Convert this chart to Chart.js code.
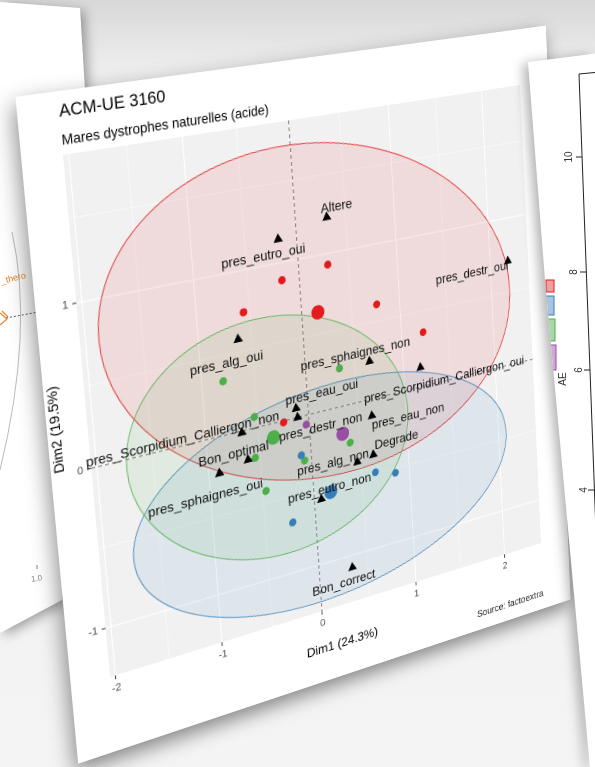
<!DOCTYPE html>
<html>
<head>
<meta charset="utf-8">
<title>ACM-UE 3160</title>
<script src="https://cdn.jsdelivr.net/npm/chart.js"></script>
<style>
  html, body { margin: 0; padding: 0; }
  body { width: 595px; height: 767px; overflow: hidden; position: relative;
         background: linear-gradient(180deg, #d8d8d8 0px, #eeeeee 70px, #f4f4f4 767px);
         font-family: "Liberation Sans", Arial, sans-serif; }
  .layer { position: absolute; left: 0; top: 0; width: 595px; height: 767px; }
  #leftWrap { filter: drop-shadow(4px 3px 6px rgba(0,0,0,0.35)); }
  #leftCard { background: #fff; clip-path: polygon(0px 2px, 80px 8px, 88px 140px, 62px 600px, 0px 633px); }
  #card { position: absolute; left: 0; top: 0; width: 592px; height: 658px; background: #fff;
          transform-origin: 0 0; box-shadow: -3px 8px 20px rgba(0,0,0,0.45); }
  #rightWrap { filter: drop-shadow(-5px 2px 6px rgba(0,0,0,0.3)); }
  #rightCard { background: #fff; clip-path: polygon(528px 62px, 600px 53px, 600px 767px, 590px 767px, 545px 280px); }
</style>
</head>
<body>

<!-- card lying behind, on the left -->
<div id="leftWrap" class="layer"><div id="leftCard" class="layer">
  <svg class="layer" width="595" height="767">
    <path d="M 12 232 Q 34 330 0 470" fill="none" stroke="#aaa" stroke-width="0.8"/>
    <text x="14" y="281" font-size="9" fill="#E8822A" text-anchor="middle" transform="rotate(-14 14 281)">_thero</text>
    <line x1="6" y1="318" x2="44" y2="311" stroke="#333" stroke-width="0.8" stroke-dasharray="2,2"/>
    <path d="M0 313 L7 319 L0 325 M2 311 L8 317" stroke="#E8822A" fill="none" stroke-width="1.2"/>
    <line x1="37" y1="565" x2="37" y2="569" stroke="#888"/>
    <text x="37" y="581" font-size="8" fill="#888" text-anchor="middle" transform="rotate(-8 37 581)">1.0</text>
  </svg>
</div></div>

<!-- main chart, photographed at an angle -->
<div id="card"><canvas id="chart" width="592" height="658"></canvas></div>

<!-- card lying on top, on the right -->
<div id="rightWrap" class="layer"><div id="rightCard" class="layer">
  <svg class="layer" width="595" height="767" font-family="Liberation Sans, Arial, sans-serif">
    <line x1="579" y1="74" x2="600" y2="72" stroke="#222" stroke-width="1"/>
    <line x1="579" y1="74" x2="600" y2="640" stroke="#222" stroke-width="1"/>
    <line x1="576" y1="157" x2="582" y2="157" stroke="#222"/>
    <line x1="580" y1="272" x2="586" y2="272" stroke="#222"/>
    <line x1="584" y1="370" x2="590" y2="370" stroke="#222"/>
    <line x1="588" y1="490" x2="594" y2="490" stroke="#222"/>
    <text x="569" y="157" font-size="10" fill="#333" text-anchor="middle" transform="rotate(-90 569 157)" dy="3">10</text>
    <text x="574" y="272" font-size="10" fill="#333" text-anchor="middle" transform="rotate(-90 574 272)" dy="3">8</text>
    <text x="579" y="370" font-size="10" fill="#333" text-anchor="middle" transform="rotate(-90 579 370)" dy="3">6</text>
    <text x="584" y="490" font-size="10" fill="#333" text-anchor="middle" transform="rotate(-90 584 490)" dy="3">4</text>
    <text x="563" y="379" font-size="10" fill="#333" text-anchor="middle" transform="rotate(-90 563 379)" dy="3">AE</text>
    <rect x="546" y="280" width="8" height="12" fill="#f0a0a0" stroke="#E41A1C"/>
    <rect x="546" y="296" width="8" height="19" fill="#a6c4e0" stroke="#377EB8"/>
    <rect x="547" y="319" width="8" height="22" fill="#a8d8a5" stroke="#4DAF4A"/>
    <rect x="548" y="345" width="8" height="25" fill="#cfa8d6" stroke="#984EA3"/>
  </svg>
</div></div>

<script>
// ---- data ----
const categories = ['Altere', 'pres_eutro_oui', 'pres_destr_oui', 'pres_alg_oui', 'pres_sphaignes_non',
  'pres_Scorpidium_Calliergon_oui', 'pres_eau_oui', 'pres_destr_non', 'pres_eau_non', 'Degrade',
  'pres_alg_non', 'pres_eutro_non', 'Bon_correct', 'Bon_optimal', 'pres_Scorpidium_Calliergon_non',
  'pres_sphaignes_oui'];
const catDim1 = [0.31, -0.18, 2.20, -0.63, 0.65, 1.18, -0.12, -0.11, 0.64, 0.63, 0.46, 0.07, 0.34, -0.62, -0.66, -0.90];
const catDim2 = [1.23, 1.15, 0.71, 0.58, 0.25, 0.13, 0.06, 0.00, -0.11, -0.37, -0.39, -0.57, -1.08, -0.19, -0.01, -0.23];

const groups = ['Altere', 'Bon_correct', 'Bon_optimal', 'Degrade'];
const altereDim1 = [-0.17, -0.56, 0.29, 0.76, 1.23, -0.25];
const altereDim2 = [0.89, 0.74, 0.93, 0.61, 0.36, -0.01];
const bonCorrectDim1 = [-0.10, 0.64, 0.85, -0.23];
const bonCorrectDim2 = [-0.25, -0.49, -0.53, -0.67];
const bonOptimalDim1 = [-0.80, 0.34, -0.53, -0.55, -0.47, 0.40, -0.07];
const bonOptimalDim2 = [0.34, 0.25, 0.07, -0.19, -0.42, -0.25, -0.29];
const degradeDim1 = [-0.03];
const degradeDim2 = [-0.06];

// group means (big dots) and concentration ellipses (Altere, Bon_correct, Bon_optimal)
const meanDim1 = [0.16, 0.17, -0.36, 0.33];
const meanDim2 = [0.64, -0.54, -0.09, -0.18];
const ellipseA = [2.05, 1.92, 1.38];
const ellipseB = [1.07, 0.70, 0.77];
const ellipseAngle = [-0.08, 0.05, -0.04];

const xTicks = [-2, -1.5, -1, -0.5, 0, 0.5, 1, 1.5, 2];
const yTicks = [-1, -0.5, 0, 0.5, 1, 1.5];

// ---- styles / layout ----
const groupColors = ['#E41A1C', '#377EB8', '#4DAF4A', '#984EA3'];
const labelDx = [12, -17, -46, -14, -15, 31, 31, 26, 44, 29, -28, 11, -11, -15, -61, -16];
const labelDy = [-9, 15, 5, 22, -11, 20, -10, 17, 11, -9, -6, -9, 15, -9, -8, 22];
// where the panel corners sit in the photo (TL, TR, BR, BL)
const panelQuad = [[63, 155], [520, 85], [541, 543], [110, 677]];
const FONT = 'Liberation Sans, Arial, sans-serif';

const pts = (xs, ys) => xs.map((v, i) => ({ x: v, y: ys[i] }));
const isMajor = v => Number.isInteger(v);

function dotSet(label, xs, ys, color, r) {
  return { label, data: pts(xs, ys), pointStyle: 'circle', pointRadius: r, pointHoverRadius: r,
    pointBackgroundColor: color, pointBorderColor: color, pointBorderWidth: 0 };
}

const panelBg = {
  id: 'panelBg',
  beforeDraw(chart) {
    const { ctx, chartArea: a } = chart;
    ctx.save();
    ctx.fillStyle = '#F1F1F1';
    ctx.fillRect(a.left, a.top, a.width, a.height);
    ctx.restore();
  }
};

const ellipses = {
  id: 'ellipses',
  beforeDatasetsDraw(chart) {
    const { ctx, chartArea: a, scales: { x, y } } = chart;
    ctx.save();
    ctx.beginPath();
    ctx.rect(a.left, a.top, a.width, a.height);
    ctx.clip();
    // zero reference lines
    ctx.strokeStyle = '#777';
    ctx.lineWidth = 1;
    ctx.setLineDash([4, 3]);
    ctx.beginPath();
    ctx.moveTo(x.getPixelForValue(0), a.top);
    ctx.lineTo(x.getPixelForValue(0), a.bottom);
    ctx.moveTo(a.left, y.getPixelForValue(0));
    ctx.lineTo(a.right, y.getPixelForValue(0));
    ctx.stroke();
    ctx.setLineDash([]);
    ellipseA.forEach((A, g) => {
      const B = ellipseB[g], th = ellipseAngle[g];
      ctx.beginPath();
      for (let k = 0; k <= 120; k++) {
        const t = k / 120 * Math.PI * 2;
        const dx = A * Math.cos(t), dy = B * Math.sin(t);
        const px = x.getPixelForValue(meanDim1[g] + dx * Math.cos(th) - dy * Math.sin(th));
        const py = y.getPixelForValue(meanDim2[g] + dx * Math.sin(th) + dy * Math.cos(th));
        k ? ctx.lineTo(px, py) : ctx.moveTo(px, py);
      }
      ctx.closePath();
      ctx.globalAlpha = 0.1;
      ctx.fillStyle = groupColors[g];
      ctx.fill();
      ctx.globalAlpha = 0.9;
      ctx.strokeStyle = groupColors[g];
      ctx.lineWidth = 0.9;
      ctx.stroke();
      ctx.globalAlpha = 1;
    });
    ctx.restore();
  }
};

const catLabels = {
  id: 'catLabels',
  afterDatasetsDraw(chart) {
    const { ctx, scales: { x, y } } = chart;
    ctx.save();
    ctx.font = '14px ' + FONT;
    ctx.fillStyle = '#111';
    ctx.textAlign = 'center';
    ctx.textBaseline = 'middle';
    categories.forEach((c, i) => {
      ctx.fillText(c, x.getPixelForValue(catDim1[i]) + labelDx[i], y.getPixelForValue(catDim2[i]) + labelDy[i]);
    });
    ctx.restore();
  }
};

const texts = {
  id: 'texts',
  afterDraw(chart) {
    const { ctx, chartArea: a } = chart;
    ctx.save();
    ctx.fillStyle = '#000';
    ctx.textBaseline = 'alphabetic';
    ctx.textAlign = 'left';
    ctx.font = '16.5px ' + FONT;
    ctx.fillText('ACM-UE 3160', a.left, 24);
    ctx.font = '13.5px ' + FONT;
    ctx.fillText('Mares dystrophes naturelles (acide)', a.left, 50.5);
    ctx.textAlign = 'center';
    ctx.font = '14px ' + FONT;
    ctx.fillText('Dim1 (24.3%)', (a.left + a.right) / 2, 626);
    ctx.save();
    ctx.translate(13, (a.top + a.bottom) / 2);
    ctx.rotate(-Math.PI / 2);
    ctx.fillText('Dim2 (19.5%)', 0, 0);
    ctx.restore();
    ctx.textAlign = 'right';
    ctx.font = '11px ' + FONT;
    ctx.fillStyle = '#222';
    ctx.fillText('Source: factoextra', a.right, 643);
    ctx.restore();
  }
};

const axisCommon = {
  type: 'linear',
  border: { display: false },
  grid: {
    color: '#ffffff',
    lineWidth: c => (c.tick && isMajor(c.tick.value)) ? 1.2 : 0.6,
    drawTicks: true,
    tickLength: 4,
    tickWidth: 1,
    tickColor: c => (c.tick && isMajor(c.tick.value)) ? '#333333' : 'rgba(0,0,0,0)'
  }
};

const chart = new Chart(document.getElementById('chart'), {
  type: 'scatter',
  data: {
    datasets: [
      { label: 'Variables', data: pts(catDim1, catDim2), pointStyle: 'triangle', pointRadius: 6, pointHoverRadius: 6,
        pointBackgroundColor: '#000', pointBorderColor: '#000', pointBorderWidth: 0 },
      dotSet('Altere moyenne', [meanDim1[0]], [meanDim2[0]], groupColors[0], 7.5),
      dotSet('Bon_correct moyenne', [meanDim1[1]], [meanDim2[1]], groupColors[1], 7.5),
      dotSet('Bon_optimal moyenne', [meanDim1[2]], [meanDim2[2]], groupColors[2], 7.5),
      dotSet('Degrade moyenne', [meanDim1[3]], [meanDim2[3]], groupColors[3], 7.5),
      dotSet('Altere', altereDim1, altereDim2, groupColors[0], 4.2),
      dotSet('Bon_correct', bonCorrectDim1, bonCorrectDim2, groupColors[1], 4.2),
      dotSet('Bon_optimal', bonOptimalDim1, bonOptimalDim2, groupColors[2], 4.2),
      dotSet('Degrade', degradeDim1, degradeDim2, groupColors[3], 4.2)
    ]
  },
  options: {
    responsive: false,
    animation: false,
    devicePixelRatio: 2,
    layout: { padding: { top: 60, left: 6, right: 37, bottom: 8 } },
    plugins: { legend: { display: false }, tooltip: { enabled: false } },
    scales: {
      x: Object.assign({}, axisCommon, {
        min: -2.05, max: 2.43,
        afterBuildTicks: s => { s.ticks = xTicks.map(v => ({ value: v })); },
        afterFit: s => { s.height = 70; },
        ticks: { autoSkip: false, maxRotation: 0, padding: 3, color: '#4D4D4D',
          font: { family: FONT, size: 11 }, callback: v => isMajor(v) ? String(v) : '' }
      }),
      y: Object.assign({}, axisCommon, {
        min: -1.31, max: 1.87,
        afterBuildTicks: s => { s.ticks = yTicks.map(v => ({ value: v })); },
        afterFit: s => { s.width = 34; },
        ticks: { autoSkip: false, padding: 4, color: '#4D4D4D',
          font: { family: FONT, size: 11 }, callback: v => isMajor(v) ? String(v) : '' }
      })
    }
  },
  plugins: [panelBg, ellipses, catLabels, texts]
});

// ---- tilt the card like the photo: map the panel rectangle onto panelQuad ----
function squareToQuad(p) {
  const [x0, y0] = p[0], [x1, y1] = p[1], [x2, y2] = p[2], [x3, y3] = p[3];
  const dx1 = x1 - x2, dx2 = x3 - x2, dx3 = x0 - x1 + x2 - x3;
  const dy1 = y1 - y2, dy2 = y3 - y2, dy3 = y0 - y1 + y2 - y3;
  const det = dx1 * dy2 - dx2 * dy1;
  const g = (dx3 * dy2 - dx2 * dy3) / det;
  const h = (dx1 * dy3 - dx3 * dy1) / det;
  return [[x1 - x0 + g * x1, x3 - x0 + h * x3, x0],
          [y1 - y0 + g * y1, y3 - y0 + h * y3, y0],
          [g, h, 1]];
}
const a = chart.chartArea;
const Q = squareToQuad(panelQuad);
const W = a.right - a.left, H = a.bottom - a.top;
const M = Q.map(r => [r[0] / W, r[1] / H, r[2] - r[0] * a.left / W - r[1] * a.top / H]);
document.getElementById('card').style.transform =
  `matrix3d(${M[0][0]},${M[1][0]},0,${M[2][0]},${M[0][1]},${M[1][1]},0,${M[2][1]},0,0,1,0,${M[0][2]},${M[1][2]},0,${M[2][2]})`;
</script>
</body>
</html>
